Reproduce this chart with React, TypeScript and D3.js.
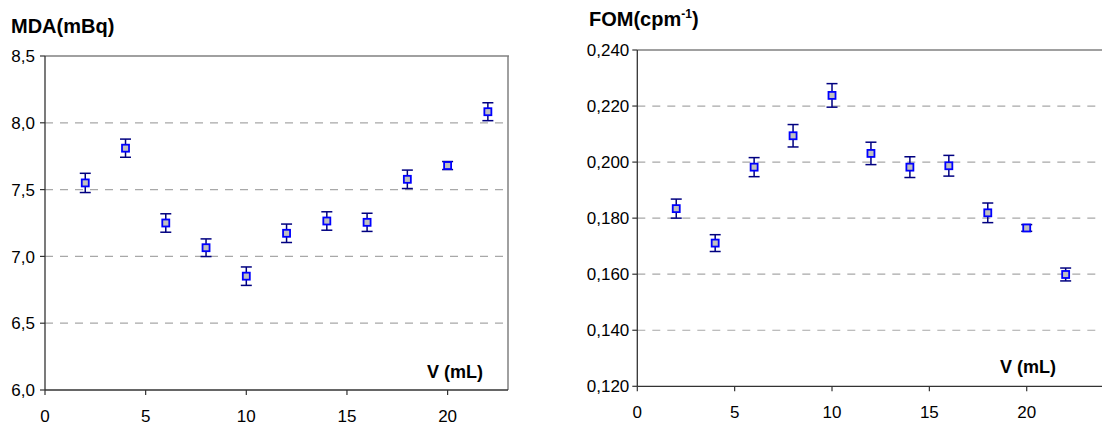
import React from "react";
import * as d3 from "d3";

const volumes = [2, 4, 6, 8, 10, 12, 14, 16, 18, 20, 22];
const mdaValues = [7.55, 7.81, 7.25, 7.065, 6.852, 7.173, 7.265, 7.255, 7.577, 7.68, 8.083];
const mdaErrors = [0.072, 0.068, 0.069, 0.066, 0.069, 0.069, 0.069, 0.068, 0.069, 0.03, 0.067];
const fomValues = [0.1834, 0.1711, 0.1982, 0.2094, 0.2238, 0.2031, 0.1982, 0.1987, 0.1819, 0.1765, 0.1599];
const fomErrors = [0.0034, 0.003, 0.0034, 0.004, 0.0042, 0.004, 0.0037, 0.0037, 0.0035, 0.0012, 0.0023];
const mdaTicks = [6.0, 6.5, 7.0, 7.5, 8.0, 8.5];
const fomTicks = [0.12, 0.14, 0.16, 0.18, 0.2, 0.22, 0.24];
const xTicks = [0, 5, 10, 15, 20];

const FONT = "Arial, 'Liberation Sans', Helvetica, sans-serif";

type PanelProps = {
  x: d3.ScaleLinear<number, number>;
  y: d3.ScaleLinear<number, number>;
  values: number[];
  errors: number[];
  yTicks: number[];
  yFmt: (v: number) => string;
  rightBorder: boolean;
  xLabelX: number;
  xLabelY: number;
  labelGap: number;
};

function Panel({ x, y, values, errors, yTicks, yFmt, rightBorder, xLabelX, xLabelY, labelGap }: PanelProps) {
  const [x0, x1] = x.range();
  const [yb, yt] = y.range();
  const maxTick = yTicks[yTicks.length - 1];
  const minTick = yTicks[0];
  return (
    <g>
      {yTicks.filter((t) => t !== maxTick && t !== minTick).map((t) => (
        <line key={"g" + t} x1={x0} x2={x1} y1={y(t)} y2={y(t)} stroke="#a8a8a8" strokeWidth={1.2} strokeDasharray="8,7" />
      ))}
      <line x1={x0} x2={x1 + 1} y1={yt} y2={yt} stroke="#808080" strokeWidth={1.5} />
      {rightBorder && <line x1={x1} x2={x1} y1={yt} y2={yb} stroke="#808080" strokeWidth={1.5} />}
      <line x1={x0} x2={x0} y1={yt} y2={yb} stroke="#333" strokeWidth={1.3} />
      <line x1={x0} x2={x1} y1={yb} y2={yb} stroke="#333" strokeWidth={1.3} />
      {yTicks.map((t) => (
        <g key={"yt" + t}>
          <line x1={x0 - 5} x2={x0} y1={y(t)} y2={y(t)} stroke="#333" strokeWidth={1.2} />
          <text x={x0 - labelGap} y={y(t)} dy="0.36em" textAnchor="end" fontSize={17} fontFamily={FONT} fill="#000">
            {yFmt(t)}
          </text>
        </g>
      ))}
      {xTicks.map((t) => (
        <g key={"xt" + t}>
          <line x1={x(t)} x2={x(t)} y1={yb} y2={yb + 5} stroke="#333" strokeWidth={1.2} />
          <text x={x(t)} y={yb + 32} textAnchor="middle" fontSize={17} fontFamily={FONT} fill="#000">
            {t}
          </text>
        </g>
      ))}
      <text x={xLabelX} y={xLabelY} fontSize={18} fontWeight="bold" fontFamily={FONT} fill="#000">
        V (mL)
      </text>
      {volumes.map((v, i) => {
        const cx = x(v);
        const top = y(values[i] + errors[i]);
        const bot = y(values[i] - errors[i]);
        return (
          <g key={"p" + i}>
            <line x1={cx} x2={cx} y1={top} y2={bot} stroke="#000080" strokeWidth={1.5} />
            <line x1={cx - 5.5} x2={cx + 5.5} y1={top} y2={top} stroke="#000080" strokeWidth={1.5} />
            <line x1={cx - 5.5} x2={cx + 5.5} y1={bot} y2={bot} stroke="#000080" strokeWidth={1.5} />
            <rect x={cx - 3.5} y={y(values[i]) - 3.5} width={7} height={7} fill="#c0c0c0" stroke="#0000ff" strokeWidth={1.8} />
          </g>
        );
      })}
    </g>
  );
}

export default function App() {
  const xL = d3.scaleLinear().domain([0, 23]).range([45, 508]);
  const yL = d3.scaleLinear().domain([6, 8.5]).range([390, 56]);
  const xR = d3.scaleLinear().domain([0, 24]).range([637.3, 1104.6]);
  const yR = d3.scaleLinear().domain([0.12, 0.24]).range([386.3, 50]);
  const fmtL = (v: number) => d3.format(".1f")(v).replace(".", ",");
  const fmtR = (v: number) => d3.format(".3f")(v).replace(".", ",");
  return (
    <svg width={1102} height={427} style={{ position: "absolute", left: 0, top: 0, display: "block", background: "#fff" }}>
      <rect x={0} y={0} width={1102} height={427} fill="#fff" />
      <text x={11} y={33} fontSize={20} fontWeight="bold" fontFamily={FONT} fill="#000">
        MDA(mBq)
      </text>
      <text x={589} y={26} fontSize={20} fontWeight="bold" fontFamily={FONT} fill="#000">
        FOM(cpm
        <tspan fontSize={12} dy={-8}>-1</tspan>
        <tspan dy={8}>)</tspan>
      </text>
      <Panel x={xL} y={yL} values={mdaValues} errors={mdaErrors} yTicks={mdaTicks} yFmt={fmtL} rightBorder={true} xLabelX={427} xLabelY={378} labelGap={10} />
      <Panel x={xR} y={yR} values={fomValues} errors={fomErrors} yTicks={fomTicks} yFmt={fmtR} rightBorder={false} xLabelX={1000} xLabelY={373} labelGap={8} />
    </svg>
  );
}
